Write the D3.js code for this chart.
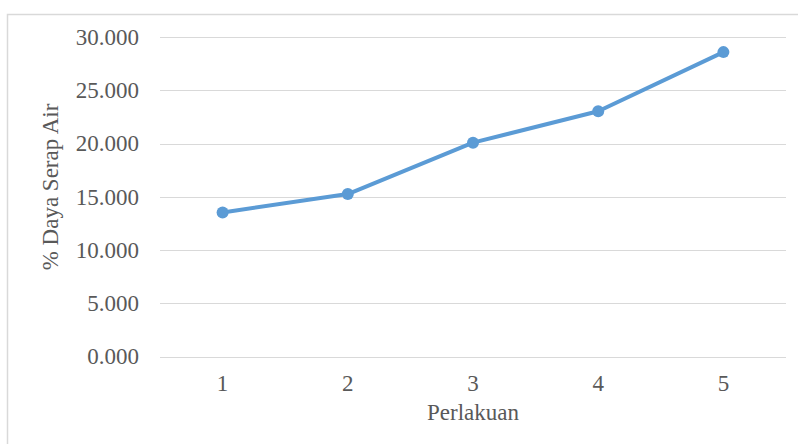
<!DOCTYPE html>
<html>
<head>
<meta charset="utf-8">
<script src="https://cdn.jsdelivr.net/npm/d3@7"></script>
<style>
  html, body { margin: 0; padding: 0; background: #fff; }
  svg { display: block; }
</style>
</head>
<body>
<svg id="chart" width="798" height="444"></svg>
<script>
// Treatments (x) and water absorption percentage (y)
const categories = ["1", "2", "3", "4", "5"];
const values = [13.53, 15.25, 20.08, 23.03, 28.58];
const yTicks = [0, 5, 10, 15, 20, 25, 30];

const svg = d3.select("#chart");
const W = 798, H = 444;
const plotLeft = 160, plotRight = 786;
const textColor = "#595959";
const fontFamily = '"Liberation Serif"';
const fontSize = "23px";

function styleText(sel) {
  sel.style("font-family", fontFamily)
     .style("font-size", fontSize)
     .attr("fill", textColor);
}

// Outer chart frame (extends past the right and bottom edges)
svg.append("rect")
  .attr("x", 7.5).attr("y", 14.5)
  .attr("width", W + 20).attr("height", H + 20)
  .attr("fill", "#fff")
  .attr("stroke", "#d9d9d9")
  .attr("stroke-width", 1.5);

const x = d3.scaleBand()
  .domain(categories)
  .range([plotLeft, plotRight]);

const y = d3.scaleLinear()
  .domain([0, 30])
  .range([356.5, 37]);

// Horizontal gridlines
svg.append("g")
  .selectAll("line")
  .data(yTicks)
  .join("line")
  .attr("x1", plotLeft).attr("x2", plotRight)
  .attr("y1", d => Math.round(y(d)) + 0.5)
  .attr("y2", d => Math.round(y(d)) + 0.5)
  .attr("stroke", "#d9d9d9")
  .attr("stroke-width", 1);

// Y axis tick labels
const yAxis = d3.axisLeft(y)
  .tickValues(yTicks)
  .tickFormat(d3.format(".3f"))
  .tickSize(0)
  .tickPadding(0);
const gy = svg.append("g")
  .attr("transform", "translate(139,0)")
  .call(yAxis);
gy.select(".domain").remove();
gy.selectAll("text").call(styleText).attr("dy", "0.32em");

// X axis tick labels
const xAxis = d3.axisBottom(x).tickSize(0).tickPadding(0);
const gx = svg.append("g")
  .attr("transform", "translate(0,375)")
  .call(xAxis);
gx.select(".domain").remove();
gx.selectAll("text").call(styleText).attr("dy", "0.71em");

// Axis titles
svg.append("text")
  .attr("x", (plotLeft + plotRight) / 2)
  .attr("y", 420)
  .attr("text-anchor", "middle")
  .call(styleText)
  .text("Perlakuan");

svg.append("text")
  .attr("transform", "translate(58,187) rotate(-90)")
  .attr("text-anchor", "middle")
  .call(styleText)
  .text("% Daya Serap Air");

// Data line and markers
const pts = categories.map((c, i) => ({ c, v: values[i] }));
const line = d3.line()
  .x(d => x(d.c) + x.bandwidth() / 2)
  .y(d => y(d.v));

svg.append("path")
  .datum(pts)
  .attr("d", line)
  .attr("fill", "none")
  .attr("stroke", "#5b9bd5")
  .attr("stroke-width", 4)
  .attr("stroke-linejoin", "round")
  .attr("stroke-linecap", "round");

svg.append("g")
  .selectAll("circle")
  .data(pts)
  .join("circle")
  .attr("cx", d => x(d.c) + x.bandwidth() / 2)
  .attr("cy", d => y(d.v))
  .attr("r", 6)
  .attr("fill", "#5b9bd5");
</script>
</body>
</html>
